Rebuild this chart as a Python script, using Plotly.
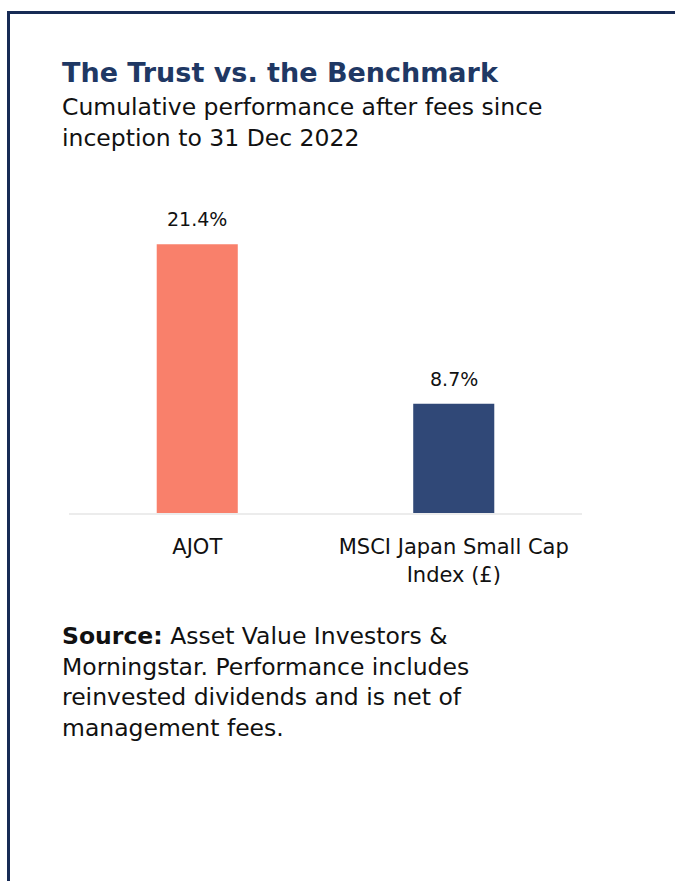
import plotly.graph_objects as go

categories = ["AJOT", "MSCI Japan Small Cap<br>Index (£)"]
values = [21.4, 8.7]
value_labels = ["21.4%", "8.7%"]
bar_colors = ["#F9806B", "#304877"]

title_text = "The Trust vs. the Benchmark"
subtitle_text = "Cumulative performance after fees since<br>inception to 31 Dec 2022"
source_text = ("<b>Source:</b> Asset Value Investors &<br>Morningstar. Performance includes"
               "<br>reinvested dividends and is net of<br>management fees.")

W, H = 675, 881
L, R, T, B = 69, 93, 199, 368
PW, PH = W - L - R, H - T - B
FONT = "DejaVu Sans"


def px_x(px):
    return (px - L) / PW


def px_y(py):
    return (H - B - py) / PH


fig = go.Figure()
fig.add_trace(go.Bar(
    x=categories, y=values, marker=dict(color=bar_colors, line=dict(width=0)),
    width=0.316, hoverinfo="skip", showlegend=False,
))

annotations = []
for c, v, t in zip(categories, values, value_labels):
    annotations.append(dict(x=c, y=v, xref="x", yref="y", text=t, showarrow=False,
                            yanchor="bottom", yshift=12,
                            font=dict(family=FONT, size=19, color="#111111")))

annotations.append(dict(x=px_x(60), y=px_y(55), xref="paper", yref="paper", text="<b>" + title_text + "</b>",
                        showarrow=False, xanchor="left", yanchor="top", align="left",
                        font=dict(family=FONT, size=27, color="#1F3864")))
annotations.append(dict(x=px_x(60), y=px_y(91), xref="paper", yref="paper", text=subtitle_text,
                        showarrow=False, xanchor="left", yanchor="top", align="left",
                        font=dict(family=FONT, size=23.5, color="#111111")))
annotations.append(dict(x=px_x(60), y=px_y(620), xref="paper", yref="paper", text=source_text,
                        showarrow=False, xanchor="left", yanchor="top", align="left",
                        font=dict(family=FONT, size=23.5, color="#111111")))

shapes = [
    dict(type="line", xref="paper", yref="paper", x0=px_x(8.5), x1=px_x(8.5), y0=px_y(11), y1=px_y(H + 2),
         line=dict(color="#172B55", width=3)),
    dict(type="line", xref="paper", yref="paper", x0=px_x(7), x1=px_x(W + 2), y0=px_y(12.5), y1=px_y(12.5),
         line=dict(color="#172B55", width=3)),
]

fig.update_layout(
    width=W, height=H,
    margin=dict(l=L, r=R, t=T, b=B),
    paper_bgcolor="white", plot_bgcolor="white",
    bargap=0.684,
    annotations=annotations,
    shapes=shapes,
    font=dict(family=FONT, color="#111111"),
    xaxis=dict(showline=True, linecolor="#ECECEC", linewidth=2, showgrid=False, zeroline=False,
               ticks="", tickfont=dict(family=FONT, size=21, color="#111111"),
               ticklabelstandoff=14, fixedrange=True),
    yaxis=dict(range=[0, 25], visible=False, showgrid=False, zeroline=False, fixedrange=True),
)

fig.write_html(
    "out.html",
    config={"displayModeBar": False},
    post_script="document.body.style.margin='0';document.body.style.overflow='hidden';",
)
